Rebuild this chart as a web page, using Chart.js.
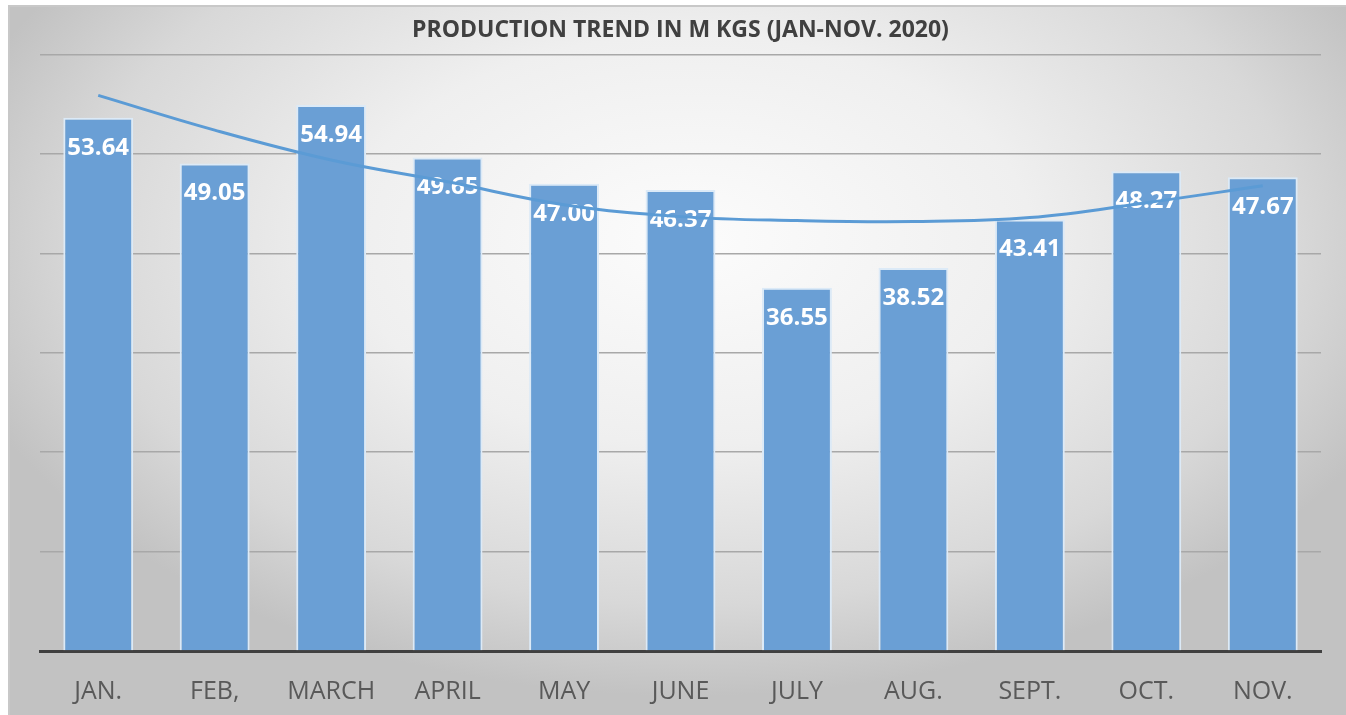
<!DOCTYPE html>
<html>
<head>
<meta charset="utf-8">
<script src="https://cdn.jsdelivr.net/npm/chart.js@4.4.0/dist/chart.umd.min.js"></script>
<style>
  body { margin: 0; background: #fff; }
  canvas { display: block; }
</style>
</head>
<body>
<canvas id="myChart" width="1346" height="715"></canvas>
<script>
// data
var months = ["JAN.", "FEB,", "MARCH", "APRIL", "MAY", "JUNE", "JULY", "AUG.", "SEPT.", "OCT.", "NOV."];
var production = [53.64, 49.05, 54.94, 49.65, 47.00, 46.37, 36.55, 38.52, 43.41, 48.27, 47.67];
var trend = [55.9, 52.4, 49.4, 47.2, 44.9, 43.7, 43.3, 43.2, 43.6, 45.1, 46.8];
var yTicks = [0, 10, 20, 30, 40, 50, 60];

// grey box with a soft radial light behind the chart
var backdrop = {
	id: "backdrop",
	beforeDraw: function(chart) {
		var c = chart.ctx;
		var w = chart.width, h = chart.height;
		c.save();
		c.fillStyle = "#ffffff";
		c.fillRect(0, 0, w, h);
		c.beginPath();
		c.rect(9, 6, w - 9, h - 6);
		c.clip();
		c.translate(690, 240);
		c.scale(1, 0.6);
		var g = c.createRadialGradient(0, 0, 0, 0, 0, 760);
		g.addColorStop(0, "#fcfcfc");
		g.addColorStop(0.45, "#efefef");
		g.addColorStop(0.8, "#d8d8d8");
		g.addColorStop(1, "#c2c2c2");
		c.fillStyle = g;
		c.fillRect(-800, -800, 1600, 1800);
		c.restore();
		c.save();
		c.strokeStyle = "#c8c8c8";
		c.lineWidth = 2;
		c.beginPath();
		c.moveTo(9, h);
		c.lineTo(9, 6);
		c.lineTo(w, 6);
		c.stroke();
		c.restore();
	}
};

// white value labels inside the top of each bar, drawn before the trend line
var barLabels = {
	id: "barLabels",
	afterDatasetDraw: function(chart, args) {
		if (args.index !== 0) return;
		var c = chart.ctx;
		c.save();
		c.fillStyle = "#ffffff";
		c.font = "bold 24px 'Open Sans'";
		c.textAlign = "center";
		c.textBaseline = "middle";
		args.meta.data.forEach(function(bar, i) {
			c.fillText(production[i].toFixed(2), bar.x, bar.y + 30);
		});
		c.restore();
	}
};

var ctx = document.getElementById("myChart").getContext("2d");
var chart = new Chart(ctx, {
	type: "bar",
	data: {
		labels: months,
		datasets: [{
			label: "Production",
			data: production,
			backgroundColor: "#6A9FD5",
			borderColor: "#DCEAF7",
			borderWidth: 2,
			barPercentage: 0.6,
			categoryPercentage: 1,
			order: 1
		}, {
			type: "line",
			label: "Trend",
			data: trend,
			borderColor: "#5B9BD5",
			borderWidth: 3,
			pointRadius: 0,
			tension: 0.4,
			fill: false,
			order: 0
		}]
	},
	options: {
		responsive: false,
		animation: false,
		layout: { padding: { left: 40, right: 25, top: 0, bottom: 0 } },
		plugins: {
			legend: { display: false },
			tooltip: { enabled: false },
			title: {
				display: true,
				text: "PRODUCTION TREND IN M KGS (JAN-NOV. 2020)",
				color: "#404040",
				font: { family: "'Open Sans'", size: 23, weight: "bold", lineHeight: 1.2 },
				padding: { top: 17, bottom: 10 }
			}
		},
		scales: {
			x: {
				grid: { display: false, drawTicks: false },
				border: { color: "#404040", width: 3 },
				afterFit: function(axis) { axis.height = 64; },
				ticks: {
					color: "#595959",
					padding: 26,
					font: { family: "'Open Sans'", size: 25 }
				}
			},
			y: {
				min: yTicks[0],
				max: yTicks[yTicks.length - 1],
				afterBuildTicks: function(axis) {
					axis.ticks = yTicks.map(function(v) { return { value: v }; });
				},
				grid: { color: "#a8a8a8", lineWidth: 1.5, drawTicks: false },
				border: { display: false },
				ticks: { display: false }
			}
		}
	},
	plugins: [backdrop, barLabels]
});
</script>
</body>
</html>
